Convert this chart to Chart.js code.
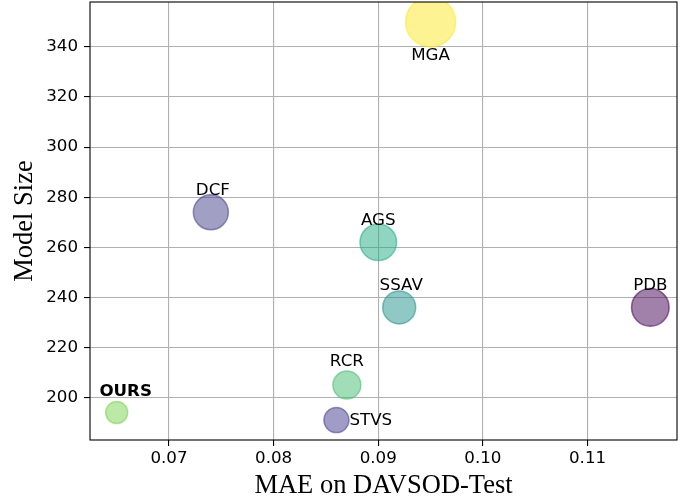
<!DOCTYPE html>
<html>
<head>
<meta charset="utf-8">
<script src="https://cdn.jsdelivr.net/npm/chart.js@4.4.0/dist/chart.umd.min.js"></script>
<style>
  html, body { margin: 0; padding: 0; background: #fff; }
  #wrap { width: 693px; height: 502px; }
</style>
</head>
<body>
<div id="wrap"><canvas id="myChart" width="693" height="502"></canvas></div>
<script>
// data
const methods = ["OURS", "STVS", "RCR", "DCF", "AGS", "SSAV", "PDB", "MGA"];
const mae = [0.065, 0.086, 0.087, 0.074, 0.090, 0.092, 0.116, 0.095];
const modelSize = [194, 191, 205, 274, 262, 236, 236, 350];
const bubbleR = [11, 12.5, 14, 17.5, 18.3, 16.5, 18.8, 25];
const xTicks = [0.07, 0.08, 0.09, 0.10, 0.11];
const yTicks = [200, 220, 240, 260, 280, 300, 320, 340];

// viridis-like colours per point
const baseColors = [
	"122, 209, 81",
	"65, 58, 140",
	"68, 190, 112",
	"68, 64, 138",
	"34, 172, 128",
	"33, 145, 140",
	"68, 1, 84",
	"253, 231, 37",
];
// label placement (pixels from the bubble centre)
const labelPos = [
	{ dx: 9, dy: -21, align: "center" },
	{ dx: 13, dy: 1, align: "left" },
	{ dx: 0, dy: -23, align: "center" },
	{ dx: 2, dy: -22, align: "center" },
	{ dx: 0, dy: -22, align: "center" },
	{ dx: 2, dy: -22, align: "center" },
	{ dx: 0, dy: -22, align: "center" },
	{ dx: 0, dy: 34, align: "center" },
];

function margin(arr) {
	const lo = Math.min(...arr), hi = Math.max(...arr);
	const m = (hi - lo) * 0.05;
	return [lo - m, hi + m];
}
const xr = margin(mae);
const yr = margin(modelSize);

const points = methods.map((m, i) => ({ x: mae[i], y: modelSize[i], r: bubbleR[i] }));

const frame = {
	id: "frame",
	afterDatasetsDraw(chart) {
		const a = chart.chartArea;
		const ctx = chart.ctx;
		ctx.save();
		// labels
		const meta = chart.getDatasetMeta(0);
		ctx.fillStyle = "#000";
		ctx.textBaseline = "middle";
		meta.data.forEach((el, i) => {
			const p = labelPos[i];
			ctx.font = (methods[i] === "OURS" ? "bold " : "") + "16.7px 'DejaVu Sans'";
			ctx.textAlign = p.align;
			ctx.fillText(methods[i], el.x + p.dx, el.y + p.dy);
		});
		ctx.strokeStyle = "#000";
		ctx.lineWidth = 1.1;
		ctx.strokeRect(a.left, a.top, a.right - a.left, a.bottom - a.top);
		ctx.restore();
	}
};

const ctx = document.getElementById("myChart").getContext("2d");
const myChart = new Chart(ctx, {
	type: "bubble",
	data: {
		datasets: [
			{
				data: points,
				backgroundColor: baseColors.map(c => "rgba(" + c + ", 0.5)"),
				borderColor: baseColors.map(c => "rgba(" + c + ", 0.55)"),
				borderWidth: 1.5,
				clip: 0,
			},
		],
	},
	options: {
		responsive: false,
		animation: false,
		layout: { autoPadding: false, padding: { top: 2, right: 16, left: 0, bottom: 0 } },
		plugins: {
			legend: { display: false },
			tooltip: { enabled: false },
		},
		scales: {
			x: {
				type: "linear",
				min: xr[0],
				max: xr[1],
				afterBuildTicks: s => { s.ticks = xTicks.map(v => ({ value: v })); },
				afterFit: s => { s.height = 62; s.paddingLeft = 0; s.paddingRight = 0; },
				grid: { color: "#b0b0b0", lineWidth: 1.1, tickColor: "#000", tickLength: 6 },
				border: { display: false },
				ticks: {
					color: "#000",
					padding: 3,
					maxRotation: 0,
					font: { family: "DejaVu Sans", size: 16.7 },
					callback: v => v.toFixed(2),
				},
				title: {
					display: true,
					text: "MAE on DAVSOD-Test",
					color: "#000",
					font: { family: "Liberation Serif", size: 26.5 },
					padding: { top: 0, bottom: 0 },
				},
			},
			y: {
				type: "linear",
				min: yr[0],
				max: yr[1],
				afterBuildTicks: s => { s.ticks = yTicks.map(v => ({ value: v })); },
				afterFit: s => { s.width = 90; s.paddingTop = 0; s.paddingBottom = 0; },
				grid: { color: "#b0b0b0", lineWidth: 1.1, tickColor: "#000", tickLength: 6 },
				border: { display: false },
				ticks: {
					color: "#000",
					padding: 6,
					font: { family: "DejaVu Sans", size: 16.7 },
				},
				title: {
					display: true,
					text: "Model Size",
					color: "#000",
					font: { family: "Liberation Serif", size: 26.5 },
					padding: { top: 9, bottom: 0 },
				},
			},
		},
	},
	plugins: [frame],
});
</script>
</body>
</html>
